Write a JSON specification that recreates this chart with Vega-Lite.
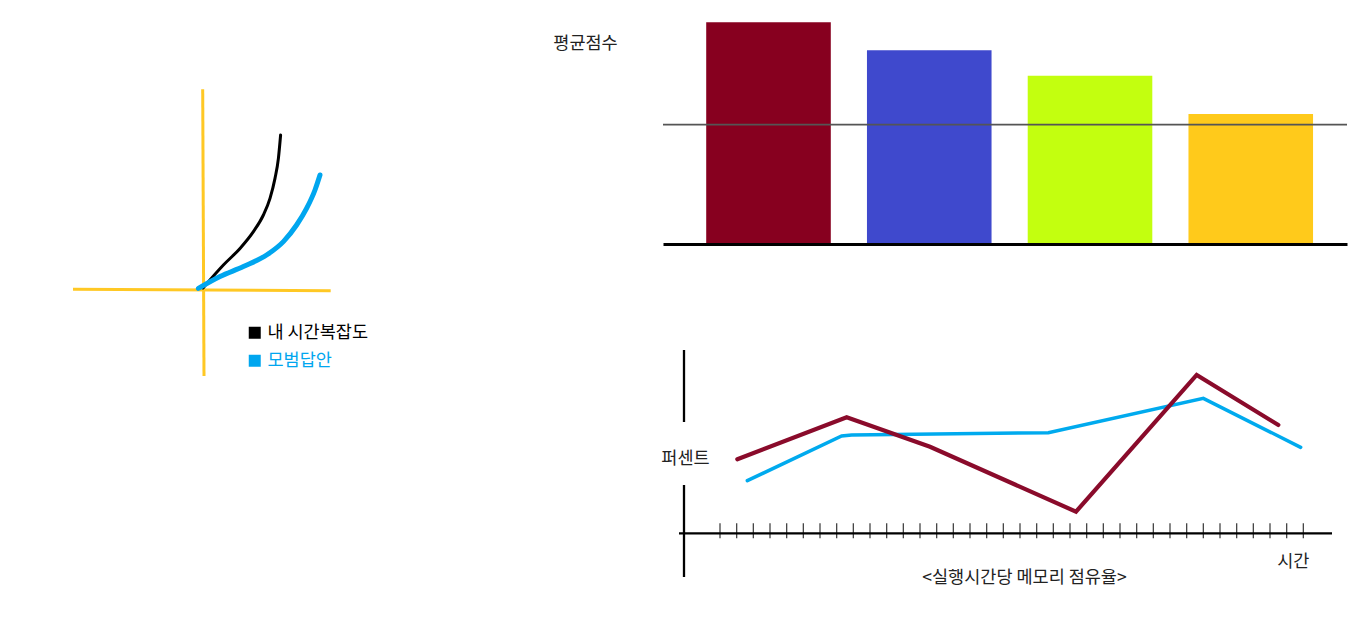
{
  "$schema": "https://vega.github.io/schema/vega-lite/v6.json",
  "padding": 0,
  "bounds": "flush",
  "spacing": 20,
  "background": "white",
  "config": {
    "view": {"stroke": null},
    "font": "Noto Sans CJK KR",
    "axis": {"titleFont": "Noto Sans CJK KR", "titleFontWeight": "normal", "titleFontSize": 17.5, "titleColor": "#222222"},
    "text": {"font": "Noto Sans CJK KR"}
  },
  "resolve": {"scale": {"color": "independent"}, "legend": {"color": "independent"}},
  "hconcat": [
    {
      "width": 643,
      "height": 629,
      "data": {"values": [
        {"series": "내 시간복잡도", "x": 0.0, "y": 0.1},
        {"series": "내 시간복잡도", "x": 1.02, "y": 1.25},
        {"series": "내 시간복잡도", "x": 1.85, "y": 2.08},
        {"series": "내 시간복잡도", "x": 2.52, "y": 2.92},
        {"series": "내 시간복잡도", "x": 3.02, "y": 3.75},
        {"series": "내 시간복잡도", "x": 3.35, "y": 4.58},
        {"series": "내 시간복잡도", "x": 3.6, "y": 5.58},
        {"series": "내 시간복잡도", "x": 3.77, "y": 6.58},
        {"series": "내 시간복잡도", "x": 3.88, "y": 7.75},
        {"series": "모범답안", "x": -0.23, "y": 0.08},
        {"series": "모범답안", "x": 0.85, "y": 0.67},
        {"series": "모범답안", "x": 2.02, "y": 1.17},
        {"series": "모범답안", "x": 3.18, "y": 1.75},
        {"series": "모범답안", "x": 4.02, "y": 2.42},
        {"series": "모범답안", "x": 4.68, "y": 3.25},
        {"series": "모범답안", "x": 5.18, "y": 4.08},
        {"series": "모범답안", "x": 5.6, "y": 5.0},
        {"series": "모범답안", "x": 5.85, "y": 5.75}
      ]},
      "layer": [
        {
          "data": {"values": [{}]},
          "mark": {"type": "rule", "color": "#ffc824", "strokeWidth": 3},
          "encoding": {
            "x": {"datum": -6.5, "type": "quantitative", "scale": {"domain": [-10.15, 22.0], "nice": false, "zero": false}, "axis": null},
            "y": {"datum": 0.035, "type": "quantitative", "scale": {"domain": [-16.95, 14.5], "nice": false, "zero": false}, "axis": null},
            "x2": {"datum": 6.385},
            "y2": {"datum": -0.035}
          }
        },
        {
          "data": {"values": [{}]},
          "mark": {"type": "rule", "color": "#ffc824", "strokeWidth": 3},
          "encoding": {
            "x": {"datum": -0.015, "type": "quantitative"},
            "y": {"datum": 10.035, "type": "quantitative"},
            "x2": {"datum": 0.05},
            "y2": {"datum": -4.3}
          }
        },
        {
          "transform": [{"filter": "datum.series === '내 시간복잡도'"}],
          "mark": {"type": "line", "strokeWidth": 3, "interpolate": "monotone", "strokeCap": "round"},
          "encoding": {
            "x": {"field": "x", "type": "quantitative"},
            "y": {"field": "y", "type": "quantitative"},
            "color": {
              "field": "series", "type": "nominal",
              "scale": {"domain": ["내 시간복잡도", "모범답안"], "range": ["#000000", "#00a6ef"]},
              "legend": {
                "title": null, "orient": "none", "legendX": 246, "legendY": 324,
                "symbolType": "square", "symbolSize": 144, "symbolStrokeWidth": 0,
                "labelFont": "Noto Sans CJK KR", "labelFontSize": 17.5, "labelOffset": 4,
                "rowPadding": 9, "padding": 0,
                "encode": {
                  "symbols": {"update": {"fill": {"signal": "datum.value === '모범답안' ? '#00a6ef' : '#000000'"}, "fillOpacity": {"value": 1}}},
                  "labels": {"update": {"fill": {"signal": "datum.value === '모범답안' ? '#00a6ef' : '#000000'"}}}
                }
              }
            }
          }
        },
        {
          "transform": [{"filter": "datum.series === '모범답안'"}],
          "mark": {"type": "line", "strokeWidth": 5, "interpolate": "monotone", "strokeCap": "round"},
          "encoding": {
            "x": {"field": "x", "type": "quantitative"},
            "y": {"field": "y", "type": "quantitative"},
            "color": {"field": "series", "type": "nominal"}
          }
        }
      ]
    },
    {
      "bounds": "flush",
      "spacing": 106,
      "vconcat": [
        {
          "width": 684,
          "height": 244,
          "data": {"values": [
            {"item": "1", "score": 90.86},
            {"item": "2", "score": 79.39},
            {"item": "3", "score": 68.98},
            {"item": "4", "score": 53.28}
          ]},
          "layer": [
            {
              "mark": {"type": "bar"},
              "encoding": {
                "x": {
                  "field": "item", "type": "nominal",
                  "scale": {"paddingInner": 0.225, "paddingOuter": 0.24, "align": 0.56},
                  "axis": {"domain": true, "domainColor": "#000000", "domainWidth": 3, "ticks": false, "labels": false, "grid": false, "title": null, "zindex": 1}
                },
                "y": {
                  "field": "score", "type": "quantitative",
                  "scale": {"domain": [0, 100], "nice": false},
                  "axis": {"domain": false, "ticks": false, "labels": false, "grid": false, "title": "평균점수", "titleAngle": 0, "titleX": -78, "titleY": 43.3, "titleAlign": "center", "titleBaseline": "middle"}
                },
                "color": {"field": "item", "type": "nominal", "scale": {"domain": ["1", "2", "3", "4"], "range": ["#87001f", "#3f49cd", "#c3ff0f", "#ffca1b"]}, "legend": null}
              }
            },
            {
              "data": {"values": [{}]},
              "mark": {"type": "rule", "color": "#555555", "strokeWidth": 1.7},
              "encoding": {"y": {"datum": 48.89, "type": "quantitative"}}
            }
          ]
        },
        {
          "width": 684,
          "height": 227,
          "layer": [
            {
              "data": {"values": [
                {"t": 0}, {"t": 1}, {"t": 2}, {"t": 3}, {"t": 4}, {"t": 5}, {"t": 6}, {"t": 7}, {"t": 8}, {"t": 9},
                {"t": 10}, {"t": 11}, {"t": 12}, {"t": 13}, {"t": 14}, {"t": 15}, {"t": 16}, {"t": 17}, {"t": 18}, {"t": 19},
                {"t": 20}, {"t": 21}, {"t": 22}, {"t": 23}, {"t": 24}, {"t": 25}, {"t": 26}, {"t": 27}, {"t": 28}, {"t": 29},
                {"t": 30}, {"t": 31}, {"t": 32}, {"t": 33}, {"t": 34}, {"t": 35}
              ]},
              "mark": {"type": "tick", "orient": "vertical", "color": "#444444", "thickness": 1.3, "size": 15, "opacity": 1},
              "encoding": {
                "x": {
                  "field": "t", "type": "quantitative",
                  "scale": {"domain": [-3.42, 37.62], "nice": false, "zero": false},
                  "axis": {"domain": false, "ticks": false, "labels": false, "grid": false, "title": "<실행시간당 메모리 점유율>", "titleX": 361, "titleY": 0, "titleAlign": "center", "titleBaseline": "middle"}
                },
                "y": {
                  "datum": 1.36, "type": "quantitative",
                  "scale": {"domain": [-23.84, 100], "nice": false, "zero": false},
                  "axis": {"domain": false, "ticks": false, "labels": false, "grid": false, "title": "퍼센트", "titleAngle": 0, "titleX": 22, "titleY": 108.3, "titleAlign": "center", "titleBaseline": "middle"}
                }
              }
            },
            {
              "data": {"values": [{}]},
              "mark": {"type": "rule", "color": "#000000", "strokeWidth": 2.3},
              "encoding": {"x": {"datum": -2.46, "type": "quantitative"}, "x2": {"datum": 36.72}, "y": {"datum": 0, "type": "quantitative"}}
            },
            {
              "data": {"values": [{}]},
              "mark": {"type": "rule", "color": "#000000", "strokeWidth": 2.3},
              "encoding": {"x": {"datum": -2.16, "type": "quantitative"}, "y": {"datum": 100, "type": "quantitative"}, "y2": {"datum": 60.72}}
            },
            {
              "data": {"values": [{}]},
              "mark": {"type": "rule", "color": "#000000", "strokeWidth": 2.3},
              "encoding": {"x": {"datum": -2.16, "type": "quantitative"}, "y": {"datum": 26.35, "type": "quantitative"}, "y2": {"datum": -23.84}}
            },
            {
              "data": {"values": [
                {"series": "모범답안", "t": 1.64, "p": 28.7},
                {"series": "모범답안", "t": 7.3, "p": 53.1},
                {"series": "모범답안", "t": 7.9, "p": 53.6},
                {"series": "모범답안", "t": 19.7, "p": 54.9},
                {"series": "모범답안", "t": 29.0, "p": 73.6},
                {"series": "모범답안", "t": 34.84, "p": 46.9}
              ]},
              "mark": {"type": "line", "color": "#00aaee", "strokeWidth": 3.5, "strokeCap": "round"},
              "encoding": {"x": {"field": "t", "type": "quantitative"}, "y": {"field": "p", "type": "quantitative"}}
            },
            {
              "data": {"values": [
                {"series": "내 코드", "t": 1.04, "p": 40.4},
                {"series": "내 코드", "t": 7.6, "p": 63.3},
                {"series": "내 코드", "t": 12.6, "p": 47.2},
                {"series": "내 코드", "t": 21.36, "p": 11.8},
                {"series": "내 코드", "t": 28.6, "p": 86.4},
                {"series": "내 코드", "t": 33.5, "p": 59.1}
              ]},
              "mark": {"type": "line", "color": "#8a0b2b", "strokeWidth": 4.2, "strokeCap": "round", "strokeJoin": "miter"},
              "encoding": {"x": {"field": "t", "type": "quantitative"}, "y": {"field": "p", "type": "quantitative"}}
            },
            {
              "data": {"values": [{}]},
              "mark": {"type": "text", "fontSize": 17.5, "color": "#222222", "align": "center", "baseline": "middle"},
              "encoding": {"x": {"datum": 34.4, "type": "quantitative"}, "y": {"datum": -15.4, "type": "quantitative"}, "text": {"value": "시간"}}
            }
          ]
        }
      ]
    }
  ]
}
